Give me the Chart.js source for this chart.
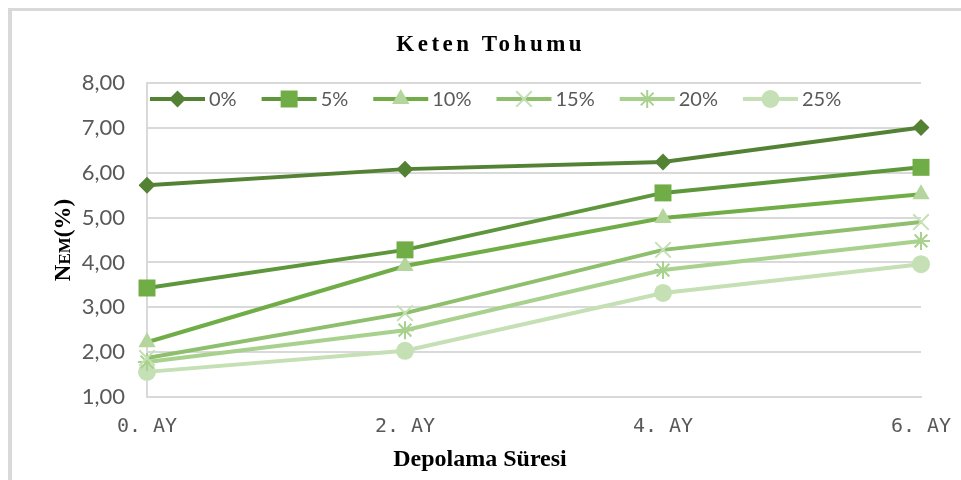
<!DOCTYPE html>
<html><head><meta charset="utf-8">
<script src="https://cdn.jsdelivr.net/npm/chart.js@4/dist/chart.umd.min.js"></script>
<style>html,body{margin:0;padding:0;background:#fff;overflow:hidden}#wrap{width:961px;height:480px;position:relative}</style>
</head><body><div id="wrap"><canvas id="c" width="961" height="480"></canvas></div>
<script>
const categories = ['0. AY', '2. AY', '4. AY', '6. AY'];
const seriesNames = ['0%', '5%', '10%', '15%', '20%', '25%'];
const s0  = [5.72, 6.08, 6.24, 7.01];
const s5  = [3.43, 4.28, 5.55, 6.12];
const s10 = [2.22, 3.92, 4.99, 5.52];
const s15 = [1.87, 2.87, 4.28, 4.90];
const s20 = [1.78, 2.49, 3.83, 4.48];
const s25 = [1.56, 2.03, 3.32, 3.96];
const yTickValues = [1, 2, 3, 4, 5, 6, 7, 8];
const yTickLabels = ['1,00', '2,00', '3,00', '4,00', '5,00', '6,00', '7,00', '8,00'];
const chartTitle = 'Keten Tohumu';
const xAxisTitle = 'Depolama Süresi';
const yAxisTitleMain = 'N';
const yAxisTitleSmall = 'EM';
const yAxisTitleEnd = '(%)';

const seriesValues = [s0, s5, s10, s15, s20, s25];
const lineColors  = ['#548235', '#5d963b', '#70ad47', '#8dbf6c', '#a9d18e', '#c5e0b4'];
const markColors  = ['#548235', '#70ad47', '#b4d69d', '#c5e0b4', '#a9d18e', '#c5e0b4'];
const markStyles  = ['rectRot', 'rect', 'triangle', 'crossRot', 'star', 'circle'];
const markRadius  = [8.5, 12, 10, 11, 9, 9];
const markBorder  = [0, 0, 0, 2, 2, 0];

const datasets = seriesNames.map((name, i) => ({
  label: name,
  data: seriesValues[i],
  borderColor: lineColors[i],
  backgroundColor: lineColors[i],
  borderWidth: 4,
  tension: 0,
  fill: false,
  pointStyle: markStyles[i],
  pointRadius: markRadius[i],
  pointHoverRadius: markRadius[i],
  pointBackgroundColor: markColors[i],
  pointBorderColor: markColors[i],
  pointBorderWidth: markBorder[i]
}));

const framePlugin = {
  id: 'frame',
  beforeDraw(chart) {
    const ctx = chart.ctx;
    ctx.save();
    ctx.fillStyle = '#ffffff';
    ctx.fillRect(0, 0, chart.width, chart.height);
    ctx.fillStyle = '#d9d9d9';
    ctx.fillRect(8, 8, 4, chart.height);
    ctx.fillRect(8, 8, chart.width, 3);
    ctx.restore();
  }
};

const textPlugin = {
  id: 'texts',
  afterDraw(chart) {
    const ctx = chart.ctx;
    const ca = chart.chartArea;
    ctx.save();
    // title
    ctx.fillStyle = '#000000';
    ctx.font = 'bold 23px "Liberation Serif"';
    ctx.textBaseline = 'middle';
    ctx.textAlign = 'left';
    ctx.letterSpacing = '3.5px';
    const tw = ctx.measureText(chartTitle).width - 3.5;
    ctx.fillText(chartTitle, 489 - tw / 2, 45);
    ctx.letterSpacing = '0px';
    // x title
    ctx.font = 'bold 24px "Liberation Serif"';
    ctx.textAlign = 'center';
    ctx.fillText(xAxisTitle, 480, 460);
    // y title
    ctx.save();
    ctx.translate(62, 240);
    ctx.rotate(-Math.PI / 2);
    ctx.textAlign = 'left';
    const big = 'bold 23px "Liberation Serif"', small = 'bold 17px "Liberation Serif"';
    ctx.font = big; const w1 = ctx.measureText(yAxisTitleMain).width;
    const w3 = ctx.measureText(yAxisTitleEnd).width;
    ctx.font = small; const w2 = ctx.measureText(yAxisTitleSmall).width;
    let x = -(w1 + w2 + w3) / 2;
    ctx.textBaseline = 'alphabetic';
    ctx.font = big; ctx.fillText(yAxisTitleMain, x, 8); x += w1;
    ctx.font = small; ctx.fillText(yAxisTitleSmall, x, 8); x += w2;
    ctx.font = big; ctx.fillText(yAxisTitleEnd, x, 8);
    ctx.restore();
    // legend inside plot area
    ctx.font = '20px Lato';
    ctx.textBaseline = 'middle';
    ctx.textAlign = 'left';
    const lineLen = 55, gapText = 4, gapItem = 25;
    let lx = ca.left + 3;
    const ly = ca.top + 16;
    chart.data.datasets.forEach(ds => {
      ctx.strokeStyle = ds.borderColor;
      ctx.lineWidth = ds.borderWidth;
      ctx.beginPath();
      ctx.moveTo(lx, ly);
      ctx.lineTo(lx + lineLen, ly);
      ctx.stroke();
      ctx.fillStyle = ds.pointBackgroundColor;
      ctx.strokeStyle = ds.pointBorderColor;
      ctx.lineWidth = ds.pointBorderWidth;
      Chart.helpers.drawPoint(ctx, {pointStyle: ds.pointStyle, radius: ds.pointRadius, rotation: 0, borderWidth: ds.pointBorderWidth}, lx + lineLen / 2, ly);
      ctx.fillStyle = '#595959';
      const t = ds.label;
      ctx.fillText(t, lx + lineLen + gapText, ly + 1);
      lx += lineLen + gapText + ctx.measureText(t).width + gapItem;
    });
    ctx.restore();
  }
};

new Chart(document.getElementById('c'), {
  type: 'line',
  data: { labels: categories, datasets },
  options: {
    responsive: false,
    animation: false,
    devicePixelRatio: 1,
    layout: { padding: { top: 83, right: 40, left: 0, bottom: 0 } },
    plugins: { legend: { display: false }, title: { display: false }, tooltip: { enabled: false } },
    scales: {
      x: {
        type: 'category',
        offset: false,
        grid: { display: false, drawTicks: false },
        border: { display: true, color: '#d9d9d9', width: 2 },
        ticks: { color: '#595959', font: { family: '"DejaVu Sans Mono"', size: 20 }, padding: 18, maxRotation: 0, autoSkip: false },
        afterFit(s) { s.height = 83; s.paddingLeft = 0; s.paddingRight = 0; }
      },
      y: {
        min: 1, max: 8,
        afterBuildTicks(s) { s.ticks = yTickValues.map(v => ({ value: v })); },
        grid: { color: '#d9d9d9', lineWidth: 2, drawTicks: false },
        border: { display: true, color: '#d9d9d9', width: 2 },
        ticks: {
          color: '#595959', font: { family: 'Lato', size: 22 }, padding: 22,
          callback: (v) => yTickLabels[yTickValues.indexOf(v)]
        },
        afterFit(s) { s.width = 147; s.paddingTop = 0; s.paddingBottom = 0; }
      }
    }
  },
  plugins: [framePlugin, textPlugin]
});
</script></body></html>
